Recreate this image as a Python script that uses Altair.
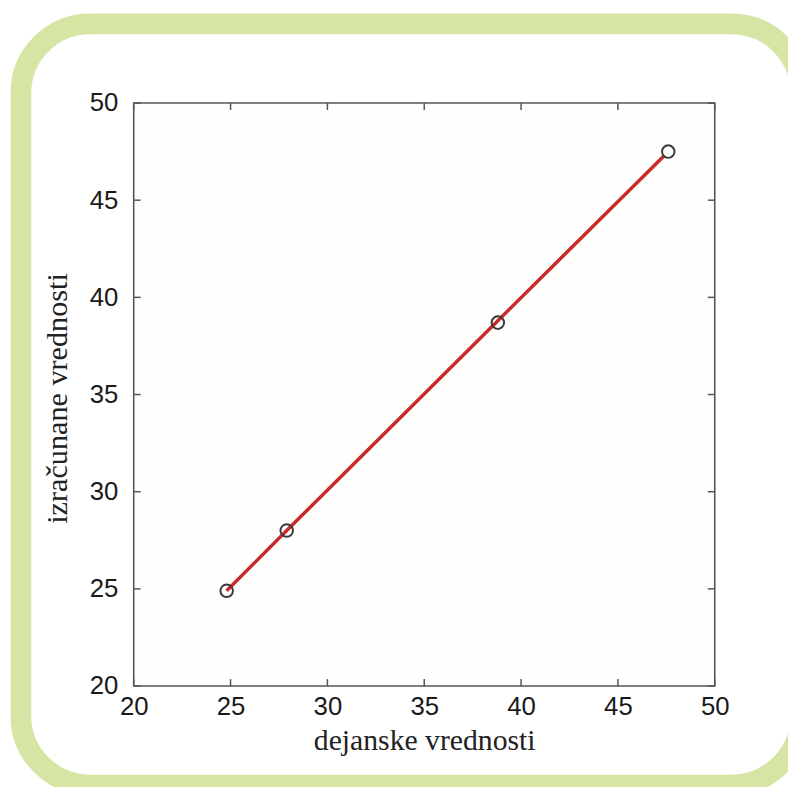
import altair as alt
import pandas as pd

# data
actual = [24.8, 27.9, 38.8, 47.6]
computed = [24.9, 28.0, 38.7, 47.5]
fit_x = [24.8, 27.9, 38.8, 47.4]
fit_y = [24.9, 28.0, 38.8, 47.3]
ticks = [20, 25, 30, 35, 40, 45, 50]

W, H = 587, 589

pts = pd.DataFrame({"x": actual, "y": computed})
fit = pd.DataFrame({"x": fit_x, "y": fit_y})
tk = pd.DataFrame({"t": ticks})
one = pd.DataFrame({"a": [0]})

xs = alt.Scale(domain=[20, 50], nice=False, zero=False)
ys = alt.Scale(domain=[20, 50], nice=False, zero=False)

xaxis = alt.Axis(values=ticks, ticks=False, domain=False, grid=False,
                 labelFont="Liberation Sans", labelFontSize=26, labelColor="#1a1a1a",
                 labelPadding=8, title="dejanske vrednosti",
                 titleFont="Liberation Serif", titleFontSize=30, titleFontWeight="normal",
                 titleColor="#222222", titleBaseline="alphabetic", titleY=64,
                 labelFlush=False, labelOverlap=False)
yaxis = alt.Axis(values=ticks, ticks=False, domain=False, grid=False,
                 labelFont="Liberation Sans", labelFontSize=26, labelColor="#1a1a1a",
                 labelPadding=16, title="izračunane vrednosti",
                 titleFont="Liberation Serif", titleFontSize=30.5, titleFontWeight="normal",
                 titleColor="#222222", titleAngle=-90, titleAlign="center",
                 titleBaseline="alphabetic", titleX=-68, titleY=298,
                 labelFlush=False, labelOverlap=False)

frame = alt.Chart(one).mark_rect(
    filled=False, stroke="#d5e6a4", strokeWidth=21, cornerRadius=70, clip=False
).encode(
    x=alt.value(-114), x2=alt.value(674), y=alt.value(-80), y2=alt.value(689)
)

line = alt.Chart(fit).mark_line(color="#c92a2a", strokeWidth=3.5).encode(
    x=alt.X("x:Q", scale=xs, axis=xaxis),
    y=alt.Y("y:Q", scale=ys, axis=yaxis),
)

points = alt.Chart(pts).mark_point(
    shape="circle", size=160, filled=False, stroke="#3a3a3a", strokeWidth=2, opacity=1
).encode(x=alt.X("x:Q", scale=xs), y=alt.Y("y:Q", scale=ys))

tick_col = "#555555"
tb = alt.Chart(tk).mark_rule(color=tick_col, strokeWidth=1.5).encode(
    x=alt.X("t:Q", scale=xs), y=alt.value(H), y2=alt.value(H - 7))
tt = alt.Chart(tk).mark_rule(color=tick_col, strokeWidth=1.5).encode(
    x=alt.X("t:Q", scale=xs), y=alt.value(0), y2=alt.value(7))
tl = alt.Chart(tk).mark_rule(color=tick_col, strokeWidth=1.5).encode(
    y=alt.Y("t:Q", scale=ys), x=alt.value(0), x2=alt.value(7))
tr = alt.Chart(tk).mark_rule(color=tick_col, strokeWidth=1.5).encode(
    y=alt.Y("t:Q", scale=ys), x=alt.value(W), x2=alt.value(W - 7))

chart = alt.layer(frame, line, points, tb, tt, tl, tr).properties(
    width=W, height=H,
    autosize=alt.AutoSizeParams(type="none"),
    padding={"left": 127, "top": 92, "right": 74, "bottom": 98},
    background="white",
).configure_view(
    stroke="#555555", strokeWidth=1.6, fill="#fefefd"
)

chart.save("out.html", embed_options={"renderer": "svg", "actions": False})
